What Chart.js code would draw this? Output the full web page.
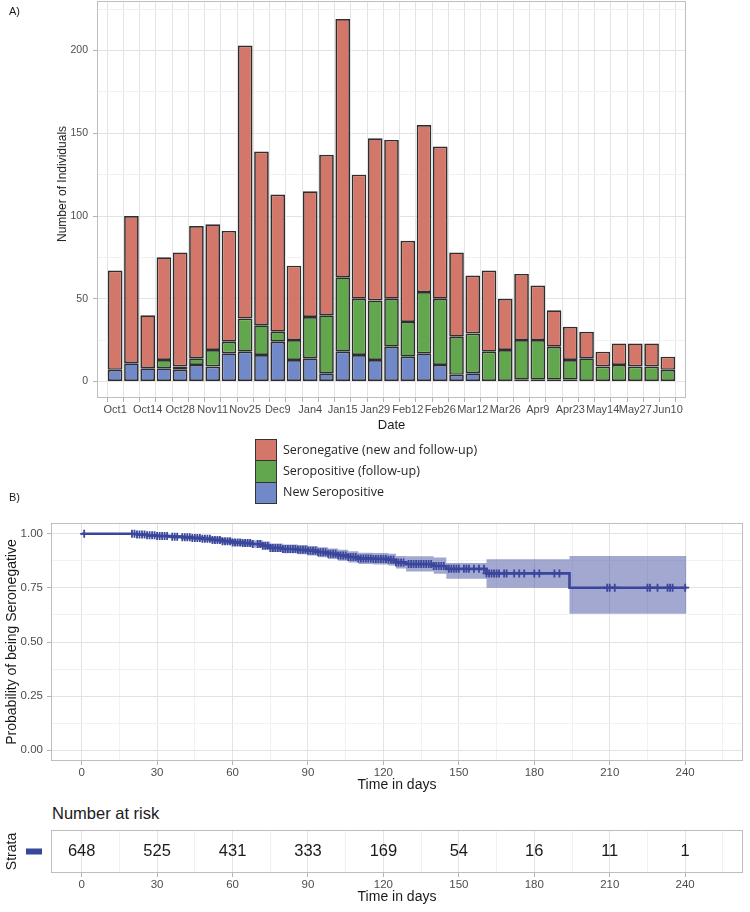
<!DOCTYPE html>
<html>
<head>
<meta charset="utf-8">
<script src="https://cdn.jsdelivr.net/npm/chart.js@4.4.1/dist/chart.umd.min.js"></script>
<style>
html,body{margin:0;padding:0;background:#ffffff;}
#wrap{position:relative;width:750px;height:912px;overflow:hidden;background:#fff;font-family:"Liberation Sans",Arial,sans-serif;}
#wrap canvas{position:absolute;left:0;}
.tag{position:absolute;font-size:11px;line-height:12px;color:#1a1a1a;}
.ytitle{position:absolute;white-space:nowrap;transform:translate(-50%,-50%) rotate(-90deg);font-size:12px;color:#1a1a1a;}
.key{position:absolute;left:255px;width:22px;height:22px;box-sizing:border-box;border:1.5px solid #333;}
.ktxt{position:absolute;left:283px;font-family:"Open Sans",sans-serif;font-size:12.5px;line-height:16px;color:#262626;white-space:nowrap;}
#nar{position:absolute;left:52px;top:803px;font-size:16.5px;line-height:20px;color:#1a1a1a;}
</style>
</head>
<body>
<div id="wrap">
  <canvas id="chartA" width="750" height="440" style="top:0"></canvas>
  <div class="tag" style="left:9px;top:5px">A)</div>
  <div class="ytitle" style="left:62px;top:184px">Number of Individuals</div>
  <div id="legend"></div>
  <canvas id="chartB" width="750" height="300" style="top:500px"></canvas>
  <div class="tag" style="left:9px;top:491px">B)</div>
  <div id="nar">Number at risk</div>
  <canvas id="chartC" width="750" height="112" style="top:800px"></canvas>
</div>
<script>
// ---------------- DATA (panel A) ----------------
const dateLabels = ["Oct1","","Oct14","","Oct28","","Nov11","","Nov25","","Dec9","","Jan4","","Jan15","","Jan29","","Feb12","","Feb26","","Mar12","","Mar26","","Apr9","","Apr23","","May14","","May27","","Jun10"];
const newSeropositive      = [7,11,8,8,7,10,9,17,18,16,24,13,14,5,18,16,13,21,15,17,10,4,5,0,0,1,1,1,1,0,0,0,0,0,0];
const seropositiveFollowUp = [0,0,0,5,2,4,10,7,20,18,6,12,25,35,45,34,36,29,21,37,40,23,24,18,19,24,24,20,12,14,9,10,9,9,7];
const seronegative         = [60,89,32,62,69,80,76,67,165,105,83,45,76,97,156,75,98,96,49,101,92,51,35,49,31,40,33,22,20,16,9,13,14,14,8];
const countTicksMajor = [0,50,100,150,200];
const countTicksMinor = [25,75,125,175,225];
const legendLabels = ["Seronegative (new and follow-up)","Seropositive (follow-up)","New Seropositive"];

// ---------------- DATA (panel B) ----------------
const kmTime  = [0,22,26,30,35,40,44,48,52,56,60,64,68,72,75,80,86,90,94,98,102,106,110,116,122,125,129,140,145,161,194,240.5];
const kmSurv  = [1.000,0.997,0.993,0.990,0.987,0.984,0.981,0.977,0.972,0.966,0.960,0.957,0.953,0.945,0.935,0.930,0.926,0.922,0.915,0.908,0.900,0.893,0.886,0.884,0.880,0.868,0.860,0.851,0.838,0.817,0.751,0.751];
const kmLower = [1.000,0.991,0.986,0.982,0.978,0.974,0.970,0.965,0.959,0.952,0.945,0.941,0.936,0.927,0.916,0.910,0.905,0.900,0.892,0.884,0.875,0.867,0.860,0.858,0.854,0.840,0.826,0.815,0.792,0.751,0.630,0.630];
const kmUpper = [1.000,1.000,0.999,0.997,0.995,0.993,0.991,0.988,0.985,0.980,0.975,0.973,0.970,0.963,0.955,0.951,0.948,0.944,0.938,0.932,0.926,0.920,0.913,0.911,0.908,0.898,0.896,0.890,0.865,0.882,0.897,0.897];
const censorTimes = [1,20,21,22,23,24,25,26,27,28,29,30,31,32,33,34,36,37,38,40,41,42,43,44,45,46,47,48,49,50,51,52,53,54,55,56,57,58,59,60,61,62,63,64,65,66,67,68,70,71,72,73,74,75,76,77,78,79,80,81,82,83,84,85,86,87,88,89,90,91,92,93,94,95,96,97,98,99,100,101,102,103,104,105,106,107,108,109,110,111,112,113,114,115,116,117,118,119,120,121,122,123,124,125,126,127,128,130,131,132,133,134,135,136,137,138,139,140,141,142,143,144,146,147,148,149,150,152,153,154,156,158,160,161,162,163,164,165,166,168,169,172,174,176,180,182,188,190,209,210,212,225,226,229,233,234,235,240];
const dayTicksMajor = [0,30,60,90,120,150,180,210,240];
const dayTicksMinor = [15,45,75,105,135,165,195,225,255];
const probTicksMajor = [0,0.25,0.5,0.75,1];
const probTicksMinor = [0.125,0.375,0.625,0.875];

// ---------------- DATA (risk table) ----------------
const riskTimes  = [0,30,60,90,120,150,180,210,240];
const riskCounts = [648,525,431,333,169,54,16,11,1];

// ---------------- STYLE ----------------
const FONT = '"Liberation Sans", Arial, sans-serif';
Chart.defaults.font.family = FONT;
const colRed = '#D3776A', colGreen = '#62A74E', colBlue = '#7189C9';
const kmCol = '#39479B', kmBand = 'rgba(57,71,155,0.47)';
const gridMajor = '#E3E3E3', gridMinor = '#F1F1F1', panelCol = '#BEBEBE', tickCol = '#B3B3B3', tickText = '#4D4D4D', titleText = '#1A1A1A';

const panelBorder = {
  id: 'panelBorder',
  beforeDatasetsDraw(chart) {
    const a = chart.chartArea, c = chart.ctx;
    c.save(); c.strokeStyle = panelCol; c.lineWidth = 1;
    c.strokeRect(Math.round(a.left) + 0.5, Math.round(a.top) + 0.5, Math.round(a.right - a.left) - 1, Math.round(a.bottom - a.top) - 1);
    c.restore();
  }
};
function noPad(s) { s.paddingTop = 0; s.paddingBottom = 0; s.paddingLeft = 0; s.paddingRight = 0; }
function tickList(major, minor) { return major.concat(minor).sort((a, b) => a - b).map(v => ({value: v})); }
function isMajor(list, v) { return list.some(m => Math.abs(m - v) < 1e-9); }

// legend (HTML)
const legendColors = [colRed, colGreen, colBlue];
const lg = document.getElementById('legend');
legendLabels.forEach((t, i) => {
  const k = document.createElement('div'); k.className = 'key';
  k.style.top = (439 + i * 21.3) + 'px'; k.style.height = '22.3px'; k.style.background = legendColors[i];
  lg.appendChild(k);
  const s = document.createElement('div'); s.className = 'ktxt';
  s.style.top = (441.5 + i * 21.3) + 'px'; s.textContent = t;
  lg.appendChild(s);
});

// ---------------- CHART A ----------------
const toXY = arr => arr.map((v, i) => ({x: i, y: v === 0 ? null : v}));
const barIdx = dateLabels.map((_, i) => i);
const barCommon = {barPercentage: 0.9, categoryPercentage: 1, borderWidth: 1.7, borderColor: '#2E2E2E', borderSkipped: false, stack: 's'};

new Chart(document.getElementById('chartA'), {
  type: 'bar',
  data: {
    datasets: [
      Object.assign({label: legendLabels[2], data: toXY(newSeropositive), backgroundColor: colBlue}, barCommon),
      Object.assign({label: legendLabels[1], data: toXY(seropositiveFollowUp), backgroundColor: colGreen}, barCommon),
      Object.assign({label: legendLabels[0], data: toXY(seronegative), backgroundColor: colRed}, barCommon)
    ]
  },
  options: {
    responsive: false, animation: false, devicePixelRatio: 1,
    layout: {padding: {top: 1, right: 64, left: 0, bottom: 0}},
    plugins: {legend: {display: false}, tooltip: {enabled: false}},
    scales: {
      x: {
        type: 'linear', min: -0.6, max: dateLabels.length - 0.4,
        afterBuildTicks: s => { s.ticks = barIdx.map(v => ({value: v})); },
        afterFit: s => { s.height = 42; noPad(s); },
        ticks: {autoSkip: false, maxRotation: 0, minRotation: 0, callback: v => dateLabels[v], color: tickText, font: {size: 11}, padding: 1},
        grid: {color: gridMajor, lineWidth: 1, tickLength: 4, tickColor: tickCol},
        border: {display: false},
        title: {display: true, text: 'Date', color: titleText, font: {size: 13}, padding: {top: 0, bottom: 7}}
      },
      y: {
        type: 'linear', stacked: true, min: -10, max: 229.95,
        afterBuildTicks: s => { s.ticks = tickList(countTicksMajor, countTicksMinor); },
        afterFit: s => { s.width = 97; noPad(s); },
        ticks: {callback: v => isMajor(countTicksMajor, v) ? String(v) : '', color: tickText, font: {size: 10.5}, padding: 5},
        grid: {
          color: c => c.tick && isMajor(countTicksMajor, c.tick.value) ? gridMajor : gridMinor,
          tickColor: c => c.tick && isMajor(countTicksMajor, c.tick.value) ? tickCol : 'rgba(0,0,0,0)',
          tickLength: 4
        },
        border: {display: false}
      }
    }
  },
  plugins: [panelBorder]
});

// ---------------- CHART B ----------------
function survAt(t) { let s = kmSurv[0]; for (let i = 0; i < kmTime.length; i++) { if (kmTime[i] <= t) s = kmSurv[i]; } return s; }
const dayAxisX = (titleSize, tickSize) => ({
  type: 'linear', min: -12.2, max: 263,
  afterBuildTicks: s => { s.ticks = tickList(dayTicksMajor, dayTicksMinor); },
  afterFit: s => { s.height = 39; noPad(s); },
  ticks: {autoSkip: false, maxRotation: 0, callback: v => isMajor(dayTicksMajor, v) ? String(v) : '', color: tickText, font: {size: tickSize}, padding: 1},
  grid: {
    color: c => c.tick && isMajor(dayTicksMajor, c.tick.value) ? gridMajor : gridMinor,
    tickColor: c => c.tick && isMajor(dayTicksMajor, c.tick.value) ? tickCol : 'rgba(0,0,0,0)',
    tickLength: 4
  },
  border: {display: false},
  title: {display: true, text: 'Time in days', color: titleText, font: {size: titleSize}, padding: {top: 0, bottom: 6}}
});

new Chart(document.getElementById('chartB'), {
  type: 'line',
  data: {
    datasets: [
      {data: kmTime.map((t, i) => ({x: t, y: kmLower[i]})), stepped: true, borderColor: 'rgba(0,0,0,0)', pointRadius: 0, fill: false},
      {data: kmTime.map((t, i) => ({x: t, y: kmUpper[i]})), stepped: true, borderColor: 'rgba(0,0,0,0)', pointRadius: 0, fill: '-1', backgroundColor: kmBand},
      {data: kmTime.map((t, i) => ({x: t, y: kmSurv[i]})), stepped: true, borderColor: kmCol, borderWidth: 2.6, pointRadius: 0, fill: false},
      {type: 'scatter', data: censorTimes.map(t => ({x: t, y: survAt(t)})), pointStyle: 'cross', pointRadius: 4,
       borderColor: kmCol, pointBorderColor: kmCol, borderWidth: 1.8, pointBorderWidth: 1.8, showLine: false}
    ]
  },
  options: {
    responsive: false, animation: false, devicePixelRatio: 1,
    layout: {padding: {top: 23, right: 7, left: 0, bottom: 0}},
    plugins: {legend: {display: false}, tooltip: {enabled: false}},
    scales: {
      x: dayAxisX(14, 11.5),
      y: {
        type: 'linear', min: -0.05, max: 1.05,
        afterBuildTicks: s => { s.ticks = tickList(probTicksMajor, probTicksMinor); },
        afterFit: s => { s.width = 51; noPad(s); },
        ticks: {callback: v => isMajor(probTicksMajor, v) ? v.toFixed(2) : '', color: tickText, font: {size: 11.5}, padding: 4},
        grid: {
          color: c => c.tick && isMajor(probTicksMajor, c.tick.value) ? gridMajor : gridMinor,
          tickColor: c => c.tick && isMajor(probTicksMajor, c.tick.value) ? tickCol : 'rgba(0,0,0,0)',
          tickLength: 4
        },
        border: {display: false},
        title: {display: true, text: 'Probability of being Seronegative', color: titleText, font: {size: 14}, padding: {top: 4, bottom: 0}}
      }
    }
  },
  plugins: [panelBorder]
});

// ---------------- CHART C (risk table) ----------------
const riskText = {
  id: 'riskText',
  afterDatasetsDraw(chart) {
    const meta = chart.getDatasetMeta(0), c = chart.ctx;
    c.save();
    c.font = '16.5px ' + FONT; c.fillStyle = '#1A1A1A'; c.textAlign = 'center'; c.textBaseline = 'middle';
    meta.data.forEach((el, i) => c.fillText(String(riskCounts[i]), el.x, el.y));
    const ym = chart.scales.y.getPixelForValue(0.5);
    c.fillStyle = kmCol; c.fillRect(26, ym - 3, 16, 6);
    c.restore();
  }
};
new Chart(document.getElementById('chartC'), {
  type: 'scatter',
  data: {datasets: [{data: riskTimes.map(t => ({x: t, y: 0.5})), pointRadius: 0}]},
  options: {
    responsive: false, animation: false, devicePixelRatio: 1,
    layout: {padding: {top: 30, right: 7, left: 0, bottom: 0}},
    plugins: {legend: {display: false}, tooltip: {enabled: false}},
    scales: {
      x: dayAxisX(14, 11.5),
      y: {
        type: 'linear', min: 0, max: 1,
        afterFit: s => { s.width = 51; noPad(s); },
        ticks: {display: false},
        grid: {display: false},
        border: {display: false},
        title: {display: true, text: 'Strata', color: titleText, font: {size: 14}, padding: {top: 4, bottom: 0}}
      }
    }
  },
  plugins: [panelBorder, riskText]
});
</script>
</body>
</html>
